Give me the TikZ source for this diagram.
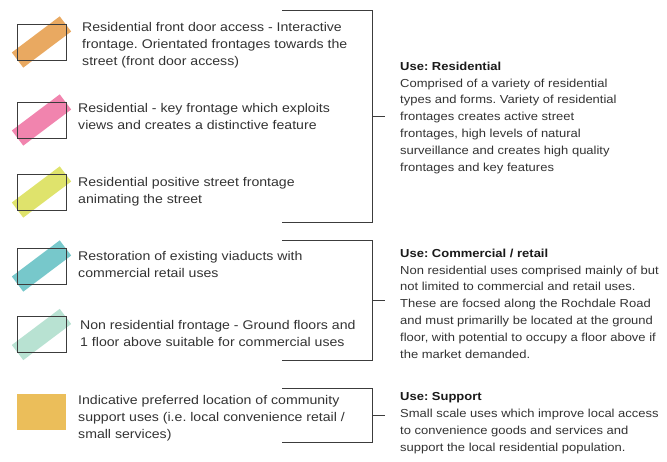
\documentclass[tikz,border=0pt]{standalone}
\usepackage{fontspec}
\setmainfont{Liberation Sans}[FakeStretch=1.12]
\frenchspacing
\begin{document}
\definecolor{txt}{HTML}{333333}
\definecolor{head}{HTML}{1A1A1A}
\definecolor{rule}{HTML}{3C3C3C}
\definecolor{cOrange}{HTML}{E8A458}
\definecolor{cPink}{HTML}{F07DAA}
\definecolor{cLime}{HTML}{DDE264}
\definecolor{cTeal}{HTML}{70C5C8}
\definecolor{cMint}{HTML}{B4E0D0}
\definecolor{cGold}{HTML}{EBBE5A}
\begin{tikzpicture}[x=1pt,y=-1pt,
  swatch/.style={draw=rule,line width=0.9pt,minimum width=49pt,minimum height=36pt,inner sep=0pt},
  band/.style={minimum width=60pt,minimum height=19pt,inner sep=0pt,rotate=37,fill opacity=0.95},
  legend/.style={anchor=north west,inner sep=0pt,align=left,text=txt,font=\fontsize{12.6}{17}\selectfont},
  usebox/.style={anchor=north west,inner sep=0pt,align=left,text=txt,font=\fontsize{11.6}{16.9}\selectfont},
  bracket/.style={draw=rule,line width=0.9pt}]
\useasboundingbox (0,0) rectangle (667,462);

% colour swatches: a tilted strip behind an outlined box
\node[band,fill=cOrange] (b1) at (41.5,42) {};
\node[swatch] (s1) at (41.5,42) {};
\node[band,fill=cPink] (b2) at (41.5,120) {};
\node[swatch] (s2) at (41.5,120) {};
\node[band,fill=cLime] (b3) at (41.5,192) {};
\node[swatch] (s3) at (41.5,192) {};
\node[band,fill=cTeal] (b4) at (41.5,266) {};
\node[swatch] (s4) at (41.5,266) {};
\node[band,fill=cMint] (b5) at (41.5,334.5) {};
\node[swatch] (s5) at (41.5,334.5) {};
\node[swatch,draw=none,fill=cGold] (s6) at (41.5,412) {};

% legend descriptions
\node[legend] (t1) at (82,22.5) {Residential front door access - Interactive\\frontage. Orientated frontages towards the\\street (front door access)};
\node[legend] (t2) at (78,103.5) {Residential - key frontage which exploits\\views and creates a distinctive feature};
\node[legend] (t3) at (78,177.5) {Residential positive street frontage\\animating the street};
\node[legend] (t4) at (78,251.5) {Restoration of existing viaducts with\\commercial retail uses};
\node[legend] (t5) at (80,320.5) {Non residential frontage - Ground floors and\\1 floor above suitable for commercial uses};
\node[legend] (t6) at (78,395.5) {Indicative preferred location of community\\support uses (i.e. local convenience retail /\\small services)};

% grouping brackets
\coordinate (g1a) at (282,10);  \coordinate (g1b) at (372,10);
\coordinate (g1c) at (372,222); \coordinate (g1d) at (282,222);
\coordinate (g1m) at (372,116); \coordinate (g1t) at (385,116);
\draw[bracket] (g1a) -- (g1b) -- (g1c) -- (g1d);
\draw[bracket] (g1m) -- (g1t);

\coordinate (g2a) at (282,240); \coordinate (g2b) at (372,240);
\coordinate (g2c) at (372,360); \coordinate (g2d) at (282,360);
\coordinate (g2m) at (372,300); \coordinate (g2t) at (385,300);
\draw[bracket] (g2a) -- (g2b) -- (g2c) -- (g2d);
\draw[bracket] (g2m) -- (g2t);

\coordinate (g3a) at (282,388); \coordinate (g3b) at (372,388);
\coordinate (g3c) at (372,442); \coordinate (g3d) at (282,442);
\coordinate (g3m) at (372,415); \coordinate (g3t) at (385,415);
\draw[bracket] (g3a) -- (g3b) -- (g3c) -- (g3d);
\draw[bracket] (g3m) -- (g3t);

% use descriptions
\node[usebox] (u1) at (400,61.5) {\textcolor{head}{\bfseries Use: Residential}\\Comprised of a variety of residential\\types and forms. Variety of residential\\frontages creates active street\\frontages, high levels of natural\\surveillance and creates high quality\\frontages and key features};
\node[usebox] (u2) at (400,248.5) {\textcolor{head}{\bfseries Use: Commercial / retail}\\Non residential uses comprised mainly of but\\not limited to commercial and retail uses.\\These are focsed along the Rochdale Road\\and must primarilly be located at the ground\\floor, with potential to occupy a floor above if\\the market demanded.};
\node[usebox] (u3) at (400,392.5) {\textcolor{head}{\bfseries Use: Support}\\Small scale uses which improve local access\\to convenience goods and services and\\support the local residential population.};
\end{tikzpicture}
\end{document}
